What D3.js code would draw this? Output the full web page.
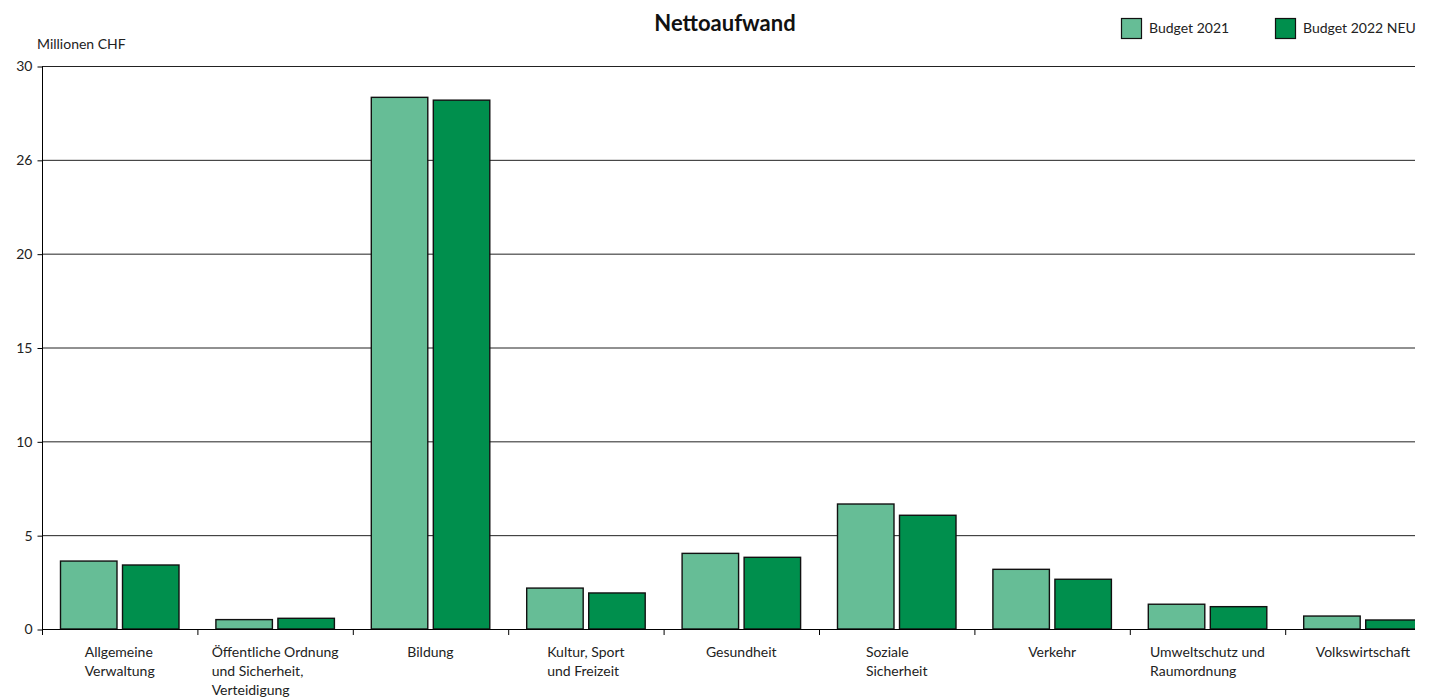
<!DOCTYPE html>
<html>
<head>
<meta charset="utf-8">
<script src="https://cdn.jsdelivr.net/npm/d3@7"></script>
<style>
  html, body { margin: 0; padding: 0; background: #fff; }
  svg { display: block; font-family: Lato, "Open Sans", sans-serif; }
</style>
</head>
<body>
<svg id="chart" width="1430" height="698"></svg>
<script>
const categories = [
  ["Allgemeine", "Verwaltung"],
  ["Öffentliche Ordnung", "und Sicherheit,", "Verteidigung"],
  ["Bildung"],
  ["Kultur, Sport", "und Freizeit"],
  ["Gesundheit"],
  ["Soziale", "Sicherheit"],
  ["Verkehr"],
  ["Umweltschutz und", "Raumordnung"],
  ["Volkswirtschaft"]
];
const seriesNames = ["Budget 2021", "Budget 2022 NEU"];
const budget2021 = [3.62, 0.50, 28.33, 2.18, 4.03, 6.66, 3.18, 1.32, 0.69];
const budget2022 = [3.41, 0.57, 28.18, 1.92, 3.82, 6.06, 2.65, 1.19, 0.48];
const yTickValues = [0, 5, 10, 15, 20, 25, 30];
const yTickLabels = ["0", "5", "10", "15", "20", "26", "30"];
const colors = ["#66bd96", "#008f4d"];

(function () {
const svg = d3.select("#chart");
const mLeft = 42, mRight = 1415, mTop = 66, mBottom = 629;
const step = 155.4;
const fs = 14;

const x0 = d3.scaleBand()
  .domain(d3.range(categories.length))
  .range([mLeft, mLeft + step * categories.length])
  .paddingInner(0).paddingOuter(0);
const x1 = d3.scaleBand()
  .domain([0, 1])
  .range([18.5, 137])
  .paddingInner(0.089);
const y = d3.scaleLinear().domain([0, 30]).range([mBottom, mTop]);

svg.append("defs").append("clipPath").attr("id", "plotclip")
  .append("rect").attr("x", mLeft).attr("y", 0).attr("width", mRight - mLeft).attr("height", 698);

// gridlines
svg.append("g").selectAll("line").data(yTickValues.filter(v => v > 0)).join("line")
  .attr("x1", mLeft).attr("x2", mRight)
  .attr("y1", d => y(d) + 0.5).attr("y2", d => y(d) + 0.5)
  .attr("stroke", "#222").attr("stroke-width", 1);

// y axis
const yAxis = d3.axisLeft(y).tickValues(yTickValues)
  .tickFormat((d, i) => yTickLabels[i]).tickSize(5).tickPadding(5);
const gy = svg.append("g").attr("transform", `translate(${mLeft + 0.5},0.5)`).call(yAxis);
gy.select(".domain").attr("stroke", "#000").attr("d", `M0,${mTop}V${mBottom}`);
gy.selectAll(".tick line").attr("stroke", "#000");
gy.selectAll(".tick text").attr("font-size", fs).attr("fill", "#222")
  .attr("font-family", "Lato, sans-serif");

// bars
const data = categories.map((c, i) => ({ i, vals: [budget2021[i], budget2022[i]] }));
const gBars = svg.append("g").attr("clip-path", "url(#plotclip)");
gBars.selectAll("g").data(data).join("g")
  .attr("transform", d => `translate(${x0(d.i)},0)`)
  .selectAll("rect").data(d => d.vals.map((v, s) => ({ v, s }))).join("rect")
  .attr("x", d => x1(d.s))
  .attr("y", d => y(d.v))
  .attr("width", x1.bandwidth())
  .attr("height", d => y(0) - y(d.v))
  .attr("fill", d => colors[d.s])
  .attr("stroke", "#111").attr("stroke-width", 1.4);

// x axis line and ticks
svg.append("line").attr("x1", mLeft).attr("x2", mRight)
  .attr("y1", mBottom + 0.5).attr("y2", mBottom + 0.5).attr("stroke", "#000");
svg.append("g").selectAll("line")
  .data(d3.range(categories.length).filter(i => x0(i) <= mRight)).join("line")
  .attr("x1", i => x0(i) + 0.5).attr("x2", i => x0(i) + 0.5)
  .attr("y1", mBottom).attr("y2", mBottom + 6).attr("stroke", "#000");

// category labels
const gLab = svg.append("g").attr("font-size", fs).attr("fill", "#222");
categories.forEach((lines, i) => {
  const t = gLab.append("text").attr("y", 657);
  lines.forEach((ln, k) => {
    t.append("tspan").attr("x", 0).attr("dy", k === 0 ? 0 : 19).text(ln);
  });
  let maxW = 0;
  t.selectAll("tspan").each(function () {
    maxW = Math.max(maxW, this.getComputedTextLength());
  });
  const cx = x0(i) + x0.bandwidth() / 2;
  t.selectAll("tspan").attr("x", cx - maxW / 2);
});

// unit label
svg.append("text").attr("x", 37).attr("y", 49).attr("font-size", fs)
  .attr("fill", "#222").text("Millionen CHF");

// title
svg.append("text").attr("x", 725).attr("y", 31).attr("text-anchor", "middle")
  .attr("font-size", 22).attr("font-weight", "bold").attr("fill", "#111")
  .text("Nettoaufwand");

// legend
const legendX = [1121, 1275];
const lg = svg.append("g");
seriesNames.forEach((n, s) => {
  lg.append("rect").attr("x", legendX[s] + 0.5).attr("y", 18.5).attr("width", 20).attr("height", 20)
    .attr("fill", colors[s]).attr("stroke", "#111").attr("stroke-width", 1.2);
  lg.append("text").attr("x", legendX[s] + 28).attr("y", 33).attr("font-size", fs)
    .attr("fill", "#222").text(n);
});
})();
</script>
</body>
</html>
